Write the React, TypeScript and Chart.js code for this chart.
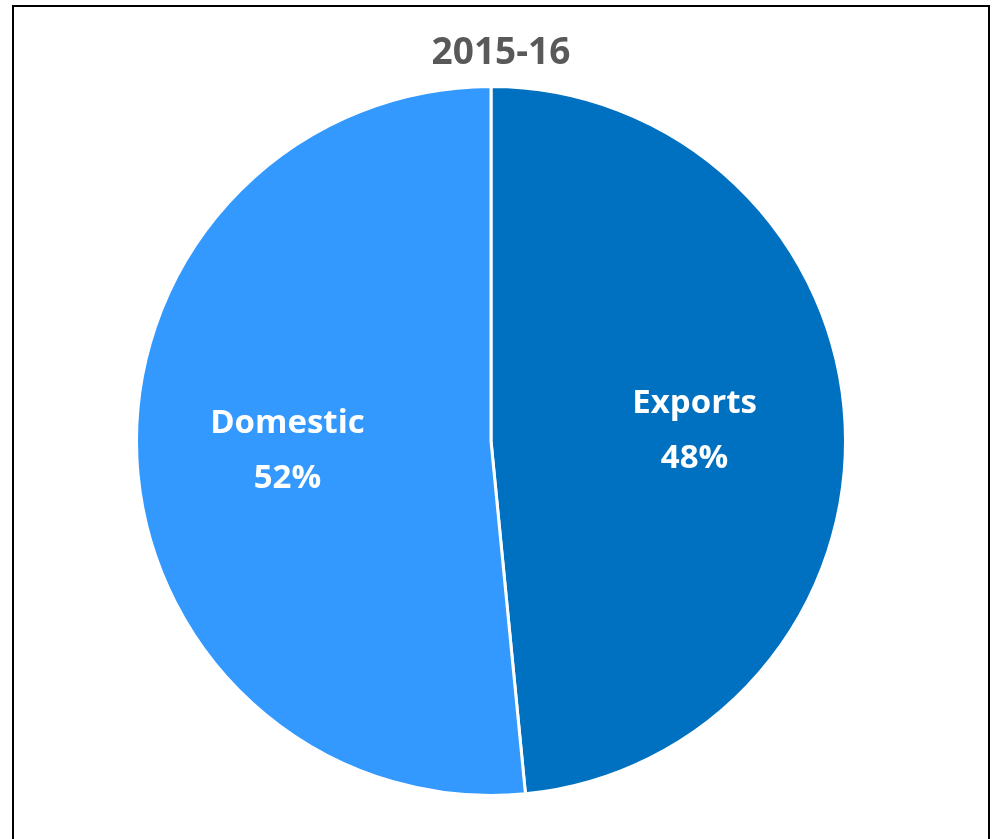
import React, { useEffect, useRef } from "react";
import { Chart, registerables } from "chart.js";

Chart.register(...registerables);

const chartTitle = "2015-16";
const categories = ["Exports", "Domestic"];
const shareValues = [48.45, 51.55];
const sliceColors = ["#0070C0", "#3399FF"];

const titlePlugin = {
  id: "customTitle",
  afterDraw(chart: any) {
    const ctx = chart.ctx;
    ctx.save();
    ctx.font = "bold 37px 'Open Sans'";
    ctx.fillStyle = "#595959";
    ctx.textAlign = "center";
    ctx.textBaseline = "middle";
    ctx.fillText(chartTitle, chart.width / 2 + 4, 53);
    ctx.restore();
  },
};

const sliceLabelPlugin = {
  id: "sliceLabels",
  afterDatasetsDraw(chart: any) {
    const ctx = chart.ctx;
    const meta = chart.getDatasetMeta(0);
    const data = chart.data.datasets[0].data as number[];
    const total = data.reduce((a, b) => a + b, 0);
    ctx.save();
    ctx.font = "bold 33px 'Open Sans'";
    ctx.fillStyle = "#FFFFFF";
    ctx.textAlign = "center";
    ctx.textBaseline = "middle";
    meta.data.forEach((arc: any, i: number) => {
      const { x, y, startAngle, endAngle, outerRadius } = arc.getProps(
        ["x", "y", "startAngle", "endAngle", "outerRadius"],
        true
      );
      const mid = (startAngle + endAngle) / 2;
      const r = outerRadius * 0.575;
      const cx = x + Math.cos(mid) * r;
      const cy = y + Math.sin(mid) * r;
      const pct = Math.round((data[i] / total) * 100) + "%";
      ctx.fillText(String(chart.data.labels[i]), cx, cy - 27);
      ctx.fillText(pct, cx, cy + 28);
    });
    ctx.restore();
  },
};

export default function App() {
  const canvasRef = useRef<HTMLCanvasElement | null>(null);

  useEffect(() => {
    if (!canvasRef.current) return;
    const chart = new Chart(canvasRef.current, {
      type: "pie",
      data: {
        labels: categories,
        datasets: [
          {
            data: shareValues,
            backgroundColor: sliceColors,
            borderColor: "#FFFFFF",
            borderWidth: 3,
          },
        ],
      },
      options: {
        animation: false,
        responsive: true,
        maintainAspectRatio: false,
        layout: { padding: { top: 85, bottom: 42, left: 135, right: 147 } },
        plugins: {
          legend: { display: false },
          title: { display: false },
          tooltip: { enabled: false },
        },
      },
      plugins: [titlePlugin, sliceLabelPlugin],
    });
    return () => chart.destroy();
  }, []);

  return (
    <div>
      <div
        style={{
          position: "fixed",
          left: 0,
          top: 0,
          width: 994,
          height: 839,
          background: "#FFFFFF",
        }}
      >
        <canvas ref={canvasRef} />
      </div>
      <div
        style={{
          position: "fixed",
          left: 12,
          top: 5,
          width: 978,
          height: 900,
          boxSizing: "border-box",
          border: "2px solid #000000",
          pointerEvents: "none",
        }}
      />
    </div>
  );
}
